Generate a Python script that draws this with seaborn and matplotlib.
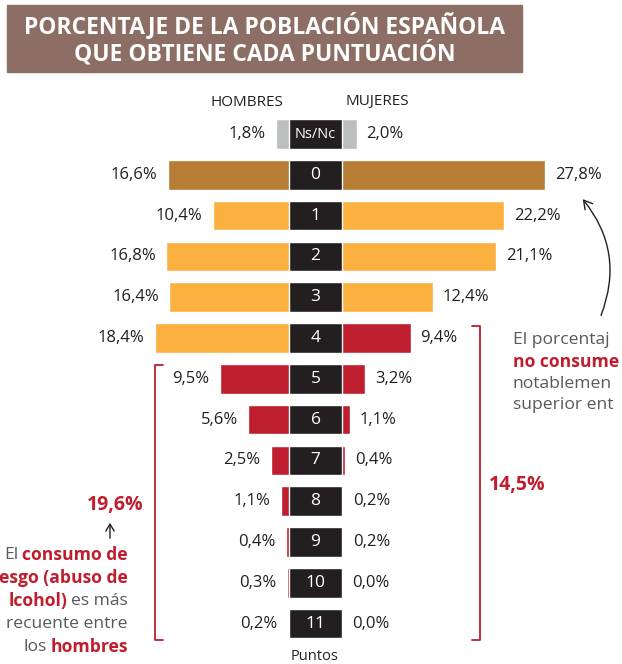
import matplotlib
matplotlib.use("Agg")
import matplotlib.pyplot as plt
import seaborn as sns
from matplotlib.patches import Rectangle, FancyArrowPatch
from matplotlib.lines import Line2D

# ---------------- datos ----------------
puntos = ["Ns/Nc", "0", "1", "2", "3", "4", "5", "6", "7", "8", "9", "10", "11"]
hombres = [1.8, 16.6, 10.4, 16.8, 16.4, 18.4, 9.5, 5.6, 2.5, 1.1, 0.4, 0.3, 0.2]
mujeres = [2.0, 27.8, 22.2, 21.1, 12.4, 9.4, 3.2, 1.1, 0.4, 0.2, 0.2, 0.0, 0.0]

GRIS, MARRON, NARANJA, ROJO, NEGRO = "#BCBEC0", "#B77D34", "#FBB040", "#BE1E2D", "#231F20"
color_hombres = [GRIS, MARRON, NARANJA, NARANJA, NARANJA, NARANJA] + [ROJO] * 7
color_mujeres = [GRIS, MARRON, NARANJA, NARANJA, NARANJA, ROJO] + [ROJO] * 7

titulo = "PORCENTAJE DE LA POBLACIÓN ESPAÑOLA\nQUE OBTIENE CADA PUNTUACIÓN"

# ---------------- estilo ----------------
sns.set_style("white")
plt.rcParams["font.family"] = ["Open Sans", "DejaVu Sans"]
TXT = "#231F20"
TXT_GRIS = "#58595B"

W, H = 622, 664
fig = plt.figure(figsize=(W / 100, H / 100), dpi=100)


def fx(x):
    return x / W


def fy(y):
    return 1 - y / H


PX_PCT = 7.3          # pixeles por punto porcentual
TOP, BOT = 113.6, 644  # limites verticales de las filas
CEN_L, CEN_R = 289, 342
IZQ, DER = 100, 600
ALTO = 0.73


def etiqueta(v):
    return f"{v:.1f}".replace(".", ",") + "%"


# barras de hombres (eje invertido)
axl = fig.add_axes([fx(IZQ), fy(BOT), (CEN_L - IZQ) / W, (BOT - TOP) / H])
sns.barplot(x=hombres, y=puntos, hue=puntos, palette=color_hombres, legend=False,
            width=ALTO, saturation=1, ax=axl)
axl.set_xlim((CEN_L - IZQ) / PX_PCT, 0)
axl.set_ylim(len(puntos) - 0.5, -0.5)
for i, v in enumerate(hombres):
    axl.annotate(etiqueta(v), xy=(v, i), xytext=(-7.5, 0), textcoords="offset points",
                 ha="right", va="center", fontsize=12, color=TXT)

# barras de mujeres
axr = fig.add_axes([fx(CEN_R), fy(BOT), (DER - CEN_R) / W, (BOT - TOP) / H])
sns.barplot(x=mujeres, y=puntos, hue=puntos, palette=color_mujeres, legend=False,
            width=ALTO, saturation=1, ax=axr)
axr.set_xlim(0, (DER - CEN_R) / PX_PCT)
axr.set_ylim(len(puntos) - 0.5, -0.5)
for i, v in enumerate(mujeres):
    axr.annotate(etiqueta(v), xy=(v, i), xytext=(7, 0), textcoords="offset points",
                 ha="left", va="center", fontsize=12, color=TXT)

# columna central con la puntuacion
axc = fig.add_axes([fx(CEN_L), fy(BOT), (CEN_R - CEN_L) / W, (BOT - TOP) / H])
sns.barplot(x=[1] * len(puntos), y=puntos, color=NEGRO, width=ALTO, saturation=1, ax=axc)
axc.set_xlim(0, 1)
axc.set_ylim(len(puntos) - 0.5, -0.5)
for i, p in enumerate(puntos):
    axc.text(0.5, i, p, ha="center", va="center", color="white",
             fontsize=10.5 if p == "Ns/Nc" else 12.5)

for ax in (axl, axr, axc):
    ax.axis("off")

# ---------------- titulo ----------------
fig.patches.append(Rectangle((fx(7), fy(72)), fx(522) - fx(7), fy(5) - fy(72),
                             transform=fig.transFigure, color="#8C6E64", zorder=0))
fig.text(fx(265), fy(39), titulo, ha="center", va="center", color="white",
         fontsize=16.5, fontweight="bold", linespacing=1.1)

fig.text(fx(247), fy(102), "HOMBRES", ha="center", va="center", fontsize=11, color=TXT)
fig.text(fx(377), fy(102), "MUJERES", ha="center", va="center", fontsize=11, color=TXT)
fig.text(fx(315), fy(656), "Puntos", ha="center", va="center", fontsize=10.5, color=TXT)

# ---------------- corchetes ----------------
fig.add_artist(Line2D([fx(163), fx(155), fx(155), fx(163)], [fy(365), fy(365), fy(640), fy(640)],
                      color=ROJO, lw=1.3))
fig.add_artist(Line2D([fx(472), fx(480), fx(480), fx(472)], [fy(326), fy(326), fy(640), fy(640)],
                      color=ROJO, lw=1.3))
fig.text(fx(143), fy(505), "19,6%", ha="right", va="center", fontsize=14,
         fontweight="bold", color=ROJO)
fig.text(fx(489), fy(485), "14,5%", ha="left", va="center", fontsize=14,
         fontweight="bold", color=ROJO)

# flechas
fig.add_artist(FancyArrowPatch((fx(110), fy(541)), (fx(110), fy(520)), transform=fig.transFigure,
                               arrowstyle="->,head_length=5,head_width=3", color=TXT, lw=1))
fig.add_artist(FancyArrowPatch((fx(600), fy(318)), (fx(581), fy(197)), transform=fig.transFigure,
                               connectionstyle="arc3,rad=0.3",
                               arrowstyle="->,head_length=6,head_width=3.5", color=TXT, lw=1))

# ---------------- textos con partes en negrita ----------------
renderer = fig.canvas.get_renderer()


def linea(partes, x, y, ha):
    # partes: lista de (texto, negrita)
    orden = partes[::-1] if ha == "right" else partes
    pos = x
    for txt, negrita in orden:
        t = fig.text(fx(pos), fy(y), txt, ha=ha, va="center", fontsize=12.6,
                     fontweight="bold" if negrita else "normal",
                     color=ROJO if negrita else TXT_GRIS)
        ancho = t.get_window_extent(renderer).width
        pos = pos - ancho - 4 if ha == "right" else pos + ancho + 4


# lo que se ve de los textos, cortados por el borde de la imagen
izquierda = [
    [("El", False), ("consumo de", True)],
    [("esgo (abuso de", True)],
    [("lcohol)", True), ("es más", False)],
    [("recuente entre", False)],
    [("los", False), ("hombres", True)],
]
for k, partes in enumerate(izquierda):
    linea(partes, 128, 555 + 23 * k, "right")

derecha = [
    [("El porcentaj", False)],
    [("no consume", True)],
    [("notablemen", False)],
    [("superior ent", False)],
]
for k, partes in enumerate(derecha):
    linea(partes, 513, 340 + 21.8 * k, "left")

fig.savefig("out.png", dpi=100)
